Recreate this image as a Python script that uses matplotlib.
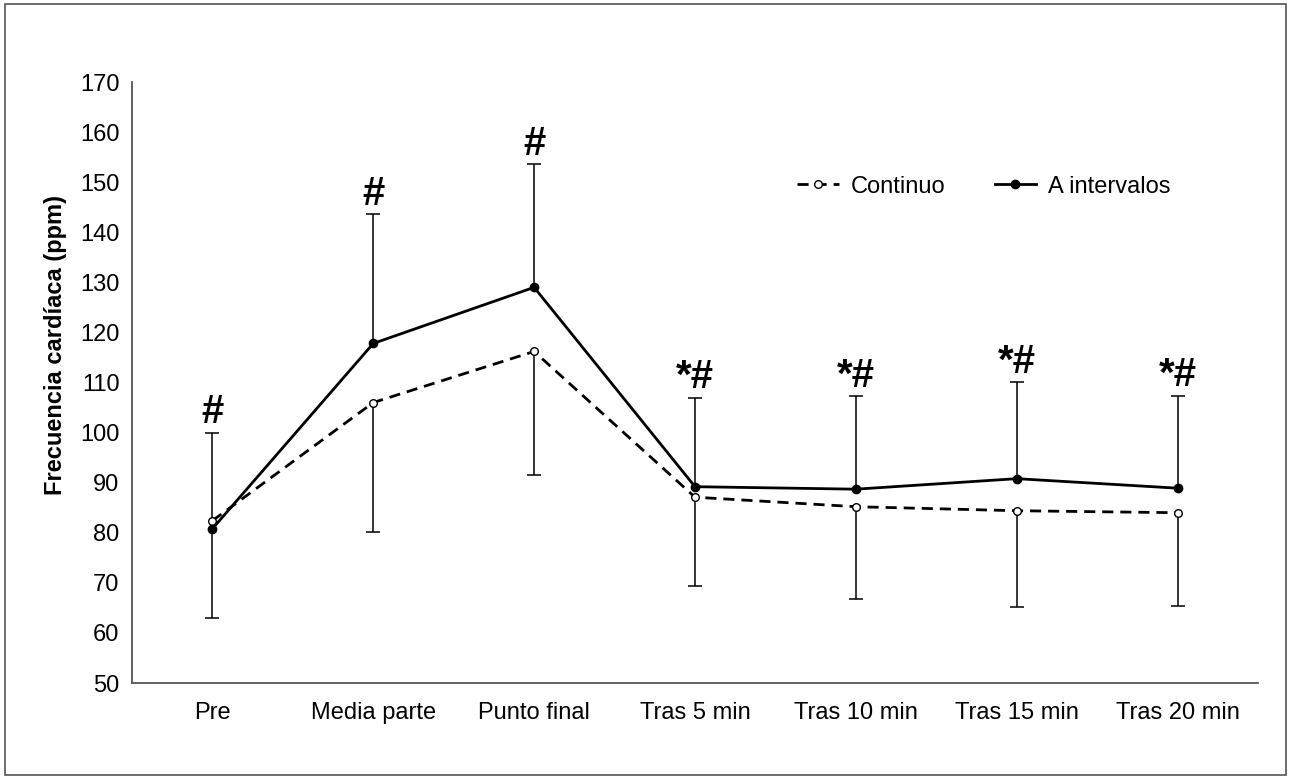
import matplotlib
matplotlib.use("Agg")
import matplotlib.pyplot as plt
from matplotlib.patches import Rectangle
import numpy as np

plt.rcParams['font.family'] = ['Liberation Sans', 'DejaVu Sans']

# data
momentos = ["Pre", "Media parte", "Punto final", "Tras 5 min",
            "Tras 10 min", "Tras 15 min", "Tras 20 min"]
continuo = [82.4, 106.0, 116.2, 87.1, 85.2, 84.4, 84.0]
continuo_sd = [19.4, 25.9, 24.7, 17.8, 18.5, 19.3, 18.6]
intervalos = [80.8, 117.8, 129.0, 89.2, 88.7, 90.8, 88.9]
intervalos_sd = [19.2, 25.8, 24.6, 17.8, 18.6, 19.3, 18.5]
marcas = ["#", "#", "#", "*#", "*#", "*#", "*#"]

x = np.arange(len(momentos))
cero = np.zeros(len(x))

fig = plt.figure(figsize=(12.9, 7.78), dpi=100)
ax = fig.add_axes([0.1023, 0.1221, 0.8729, 0.7725])

# one-sided error bars: down for continuo, up for intervalos
eb1 = ax.errorbar(x, continuo, yerr=[continuo_sd, cero], fmt='none',
                  ecolor='black', elinewidth=1.1, capsize=5, capthick=1.1, zorder=2)
eb1[1][1].set_visible(False)  # drop the cap on the zero side
eb2 = ax.errorbar(x, intervalos, yerr=[cero, intervalos_sd], fmt='none',
                  ecolor='black', elinewidth=1.1, capsize=5, capthick=1.1, zorder=2)
eb2[1][0].set_visible(False)

ax.plot(x, continuo, linestyle=(0, (4, 2.5)), color='black', lw=2,
        marker='o', markersize=5.5, markerfacecolor='white',
        markeredgecolor='black', markeredgewidth=1, label='Continuo', zorder=3)
ax.plot(x, intervalos, linestyle='-', color='black', lw=2,
        marker='o', markersize=6, markerfacecolor='black',
        markeredgecolor='black', label='A intervalos', zorder=4)

# significance marks above the upper caps
for xi, m, sd, txt in zip(x, intervalos, intervalos_sd, marcas):
    ax.text(xi, m + sd + 0.3, txt, ha='center', va='bottom',
            fontsize=29, fontweight='bold')

ax.set_xlim(-0.5, len(x) - 0.5)
ax.set_ylim(50, 170)
ax.set_yticks(np.arange(50, 171, 10))
ax.set_xticks(x)
ax.set_xticklabels(momentos)
ax.tick_params(axis='both', length=0, labelsize=17)
ax.tick_params(axis='y', pad=9)
ax.tick_params(axis='x', pad=14)
ax.set_ylabel("Frecuencia cardíaca (ppm)", fontsize=17, fontweight='bold')
ax.yaxis.set_label_coords(-0.058, 0.562)

for s in ['top', 'right']:
    ax.spines[s].set_visible(False)
for s in ['left', 'bottom']:
    ax.spines[s].set_color('#555555')
    ax.spines[s].set_linewidth(1.3)

ax.legend(loc='center left', bbox_to_anchor=(0.591, 0.826), ncol=2, frameon=False,
          fontsize=17, handlelength=1.75, columnspacing=2.1, handletextpad=0.5,
          borderpad=0, borderaxespad=0, markerscale=1.0)

fig.patches.append(Rectangle((0.004, 0.004), 0.993, 0.991, transform=fig.transFigure,
                             fill=False, edgecolor='#555555', lw=1.2))

fig.savefig("out.png", dpi=100, facecolor='white')
